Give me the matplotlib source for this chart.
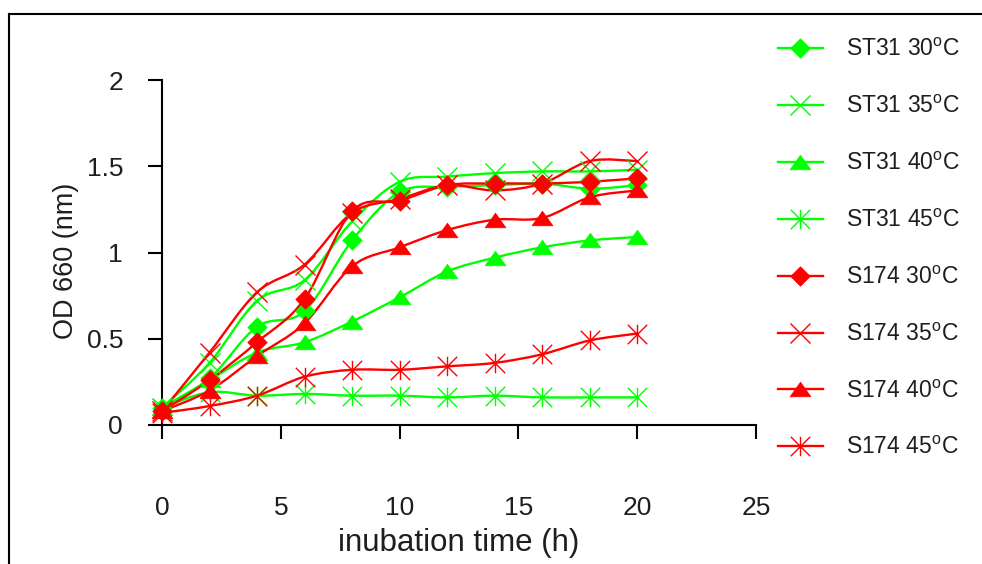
import matplotlib
matplotlib.use("Agg")
import matplotlib.pyplot as plt
import numpy as np
from matplotlib.path import Path
from matplotlib.patches import PathPatch
from matplotlib.lines import Line2D

plt.rcParams['font.family'] = ['Liberation Sans', 'DejaVu Sans']

# ---- data ----
time = [0, 2, 4, 6, 8, 10, 12, 14, 16, 18, 20]
st31_30 = [0.10, 0.27, 0.57, 0.66, 1.07, 1.35, 1.38, 1.39, 1.40, 1.37, 1.39]
st31_35 = [0.10, 0.36, 0.72, 0.84, 1.18, 1.41, 1.44, 1.46, 1.47, 1.47, 1.48]
st31_40 = [0.10, 0.26, 0.42, 0.48, 0.60, 0.74, 0.89, 0.97, 1.03, 1.07, 1.09]
st31_45 = [0.10, 0.19, 0.17, 0.18, 0.17, 0.17, 0.16, 0.17, 0.16, 0.16, 0.16]
s174_30 = [0.08, 0.26, 0.48, 0.73, 1.24, 1.30, 1.39, 1.40, 1.40, 1.41, 1.43]
s174_35 = [0.08, 0.42, 0.77, 0.93, 1.23, 1.31, 1.39, 1.36, 1.40, 1.53, 1.53]
s174_40 = [0.08, 0.20, 0.40, 0.59, 0.92, 1.03, 1.13, 1.19, 1.20, 1.32, 1.36]
s174_45 = [0.07, 0.11, 0.17, 0.28, 0.32, 0.32, 0.34, 0.36, 0.41, 0.49, 0.53]

labels = ['ST31 30$^{\\mathregular{o}}$C', 'ST31 35$^{\\mathregular{o}}$C',
          'ST31 40$^{\\mathregular{o}}$C', 'ST31 45$^{\\mathregular{o}}$C',
          'S174 30$^{\\mathregular{o}}$C', 'S174 35$^{\\mathregular{o}}$C',
          'S174 40$^{\\mathregular{o}}$C', 'S174 45$^{\\mathregular{o}}$C']
series = [st31_30, st31_35, st31_40, st31_45, s174_30, s174_35, s174_40, s174_45]

xticks = [0, 5, 10, 15, 20, 25]
yticks = [0, 0.5, 1, 1.5, 2]
ytick_labels = ['0', '0.5', '1', '1.5', '2']

GREEN = '#00ff00'
RED = '#ff0000'
TXT = '#1e1e1e'

diamond = [(0, 1), (1, 0), (0, -1), (-1, 0), (0, 1)]
triangle = [(-1, -0.7), (1, -0.7), (0, 0.7), (-1, -0.7)]
asterisk = Path([(-1, -1), (1, 1), (-1, 1), (1, -1), (0, -1), (0, 1)],
                [Path.MOVETO, Path.LINETO, Path.MOVETO, Path.LINETO, Path.MOVETO, Path.LINETO])

styles = [
    dict(color=GREEN, marker=diamond, ms=14, filled=True),
    dict(color=GREEN, marker='x', ms=14, filled=False),
    dict(color=GREEN, marker=triangle, ms=15, filled=True),
    dict(color=GREEN, marker=asterisk, ms=14, filled=False),
    dict(color=RED, marker=diamond, ms=14, filled=True),
    dict(color=RED, marker='x', ms=14, filled=False),
    dict(color=RED, marker=triangle, ms=15, filled=True),
    dict(color=RED, marker=asterisk, ms=14, filled=False),
]


def smooth_path(xs, ys):
    """Excel-style smoothed line: cubic Bezier segments through the data points."""
    pts = np.column_stack([xs, ys]).astype(float)
    n = len(pts)
    verts = [pts[0]]
    codes = [Path.MOVETO]
    for i in range(n - 1):
        p0 = pts[i - 1] if i > 0 else pts[i]
        p1 = pts[i]
        p2 = pts[i + 1]
        p3 = pts[i + 2] if i + 2 < n else pts[i + 1]
        c1 = p1 + (p2 - p0) / 6.0
        c2 = p2 - (p3 - p1) / 6.0
        verts += [c1, c2, p2]
        codes += [Path.CURVE4] * 3
    return Path(verts, codes)


fig = plt.figure(figsize=(9.82, 5.64), dpi=100)
ax = fig.add_axes([162 / 982, (564 - 425) / 564, (756 - 162) / 982, (425 - 80) / 564])

handles = []
for ys, st, lab in zip(series, styles, labels):
    patch = PathPatch(smooth_path(time, ys), facecolor='none', edgecolor=st['color'],
                      lw=1.7, clip_on=False, zorder=2)
    ax.add_patch(patch)
    if st['filled']:
        ax.plot(time, ys, linestyle='none', marker=st['marker'], ms=st['ms'],
                mfc=st['color'], mec=st['color'], mew=0.5, clip_on=False, zorder=3)
        h = Line2D([], [], color=st['color'], lw=1.7, marker=st['marker'], ms=st['ms'],
                   mfc=st['color'], mec=st['color'], mew=0.5)
    else:
        ax.plot(time, ys, linestyle='none', marker=st['marker'], ms=st['ms'],
                mfc='none', mec=st['color'], mew=1.0, clip_on=False, zorder=3)
        h = Line2D([], [], color=st['color'], lw=1.7, marker=st['marker'], ms=st['ms'],
                   mfc='none', mec=st['color'], mew=1.0)
    handles.append(h)

ax.set_xlim(0, 25)
ax.set_ylim(0, 2)
ax.set_xticks(xticks)
ax.set_xticklabels([str(t) for t in xticks])
ax.set_yticks(yticks)
ax.set_yticklabels(ytick_labels)
for s in ['top', 'right']:
    ax.spines[s].set_visible(False)
for s in ['left', 'bottom']:
    ax.spines[s].set_linewidth(1.5)
    ax.spines[s].set_color('black')
ax.tick_params(axis='x', direction='out', length=10, width=1.5, pad=41,
               labelsize=19, labelcolor=TXT)
ax.tick_params(axis='y', direction='out', length=10, width=1.5, pad=18,
               labelsize=19, labelcolor=TXT)

ax.set_xlabel('inubation time (h)', fontsize=22.5, color=TXT)
ax.xaxis.set_label_coords(0.5, -0.30)
ax.set_ylabel('OD 660 (nm)', fontsize=19.5, color=TXT)
ax.yaxis.set_label_coords(-0.14, 0.475)

fig.legend(handles, labels, loc='upper left', bbox_to_anchor=(778 / 982, 1 - 38 / 564),
           frameon=False, fontsize=16.5, borderpad=0, borderaxespad=0,
           handlelength=1.95, handletextpad=1.0, labelspacing=1.48, labelcolor=TXT)

# outer frame (partially cropped)
fig.add_artist(Line2D([9 / 982, 9 / 982], [0, 1 - 14 / 564], color='black', lw=1.5,
                      transform=fig.transFigure))
fig.add_artist(Line2D([9 / 982, 1], [1 - 14 / 564, 1 - 14 / 564], color='black', lw=1.5,
                      transform=fig.transFigure))

fig.savefig('out.png', dpi=100)
